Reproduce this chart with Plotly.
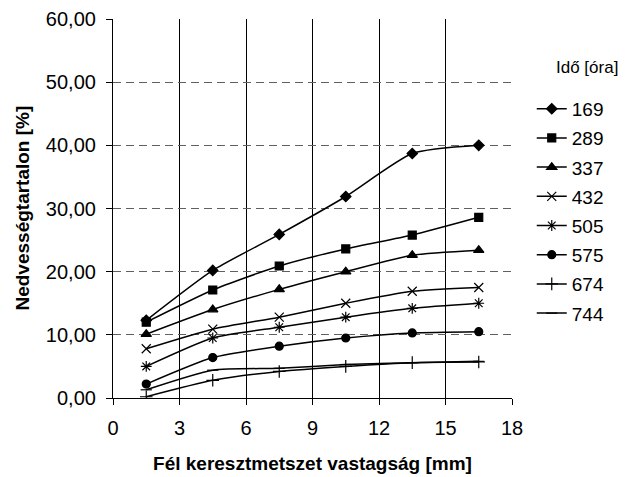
import plotly.graph_objects as go

x_vals = [1.5, 4.5, 7.5, 10.5, 13.5, 16.5]
series_names = ["169", "289", "337", "432", "505", "575", "674", "744"]
s169 = [12.3, 20.2, 25.9, 31.9, 38.7, 40.0]
s289 = [12.0, 17.1, 20.9, 23.6, 25.8, 28.6]
s337 = [10.1, 14.0, 17.2, 20.0, 22.6, 23.4]
s432 = [7.8, 10.9, 12.8, 15.0, 16.9, 17.5]
s505 = [5.0, 9.5, 11.2, 12.8, 14.2, 15.0]
s575 = [2.2, 6.4, 8.2, 9.5, 10.3, 10.5]
s674 = [0.2, 2.8, 4.2, 5.0, 5.6, 5.7]
s744 = [1.3, 4.4, 4.7, 5.3, 5.6, 5.8]
series_values = [s169, s289, s337, s432, s505, s575, s674, s744]
symbols = ["diamond", "square", "triangle-up", "x-thin-open", "asterisk-open",
           "circle", "cross-thin-open", "line-ew-open"]
sizes = [8, 8, 9, 9, 9, 8, 9, 8]

y_ticks = [0, 10, 20, 30, 40, 50, 60]
x_ticks = [0, 3, 6, 9, 12, 15, 18]

FONT = "Liberation Sans, Arial, sans-serif"

fig = go.Figure()
for i, (name, vals) in enumerate(zip(series_names, series_values)):
    fig.add_trace(go.Scatter(
        x=x_vals, y=vals, name=name, mode="lines+markers",
        line=dict(color="black", width=1.5, shape="spline", smoothing=0.6),
        marker=dict(symbol=symbols[i], size=sizes[i], color="black",
                    line=dict(color="black", width=1.2)),
        legendgroup=name,
    ))

fig.update_layout(
    width=620, height=469,
    margin=dict(l=105, r=116, t=11, b=79, autoexpand=False),
    plot_bgcolor="white", paper_bgcolor="white",
    separators=",.",
    font=dict(family=FONT, size=19, color="black"),
    showlegend=True,
    legend=dict(x=1.0495, y=0.813, xanchor="left", yanchor="top",
                font=dict(size=19), tracegroupgap=1.5,
                bgcolor="rgba(0,0,0,0)"),
    annotations=[
        dict(text="Idő [óra]", x=1.105, y=0.871, xref="paper", yref="paper",
             xanchor="left", yanchor="middle", showarrow=False,
             font=dict(size=17)),
        dict(text="<b>Nedvességtartalon [%]</b>", x=-0.228, y=0.5,
             xref="paper", yref="paper", xanchor="center", yanchor="middle",
             textangle=-90, showarrow=False, font=dict(size=19)),
    ],
)

fig.update_xaxes(
    range=[0, 18], tickvals=x_ticks, ticks="outside", ticklen=6, tickcolor="black",
    showline=True, linecolor="black", linewidth=1.2, automargin=False,
    showgrid=True, gridcolor="black", gridwidth=1,
    zeroline=False, tickfont=dict(size=20), ticklabelstandoff=6,
    title=dict(text="<b>Fél keresztmetszet vastagság [mm]</b>", font=dict(size=19), standoff=18),
)
fig.update_yaxes(
    range=[0, 60], tickvals=y_ticks, tickformat=".2f", ticks="outside", ticklen=6,
    tickcolor="black", showline=True, linecolor="black", linewidth=1.2, automargin=False,
    showgrid=True, gridcolor="#606060", gridwidth=1.3, griddash="8px,5px",
    zeroline=False, tickfont=dict(size=20), ticklabelstandoff=6,
)

fig.write_html("out.html")
